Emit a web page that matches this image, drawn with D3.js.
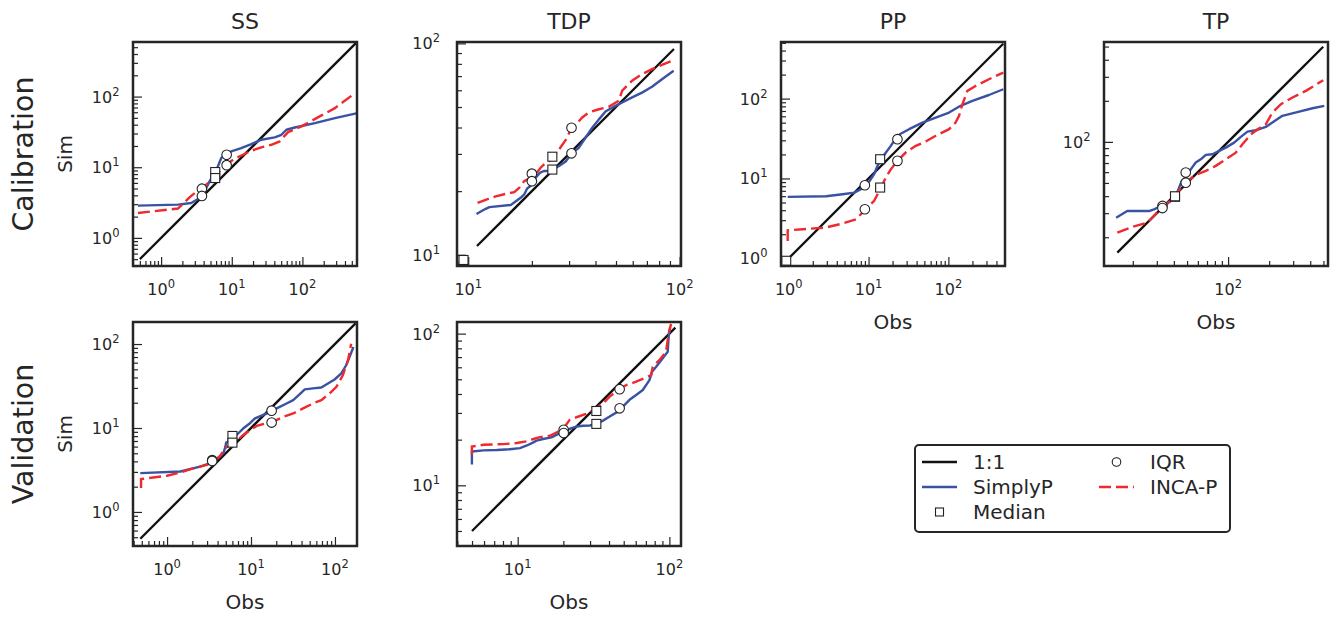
<!DOCTYPE html>
<html>
<head>
<meta charset="utf-8">
<script src="https://cdn.jsdelivr.net/npm/d3@7"></script>
<style>
  body { margin: 0; background: #fff; }
  svg { display: block; font-family: "DejaVu Sans", sans-serif; }
</style>
</head>
<body>
<svg id="grafico" width="1336" height="619"></svg>
<script>
// ---------- Dados (obs, sim) ----------

// SS - calibração
const ssCalSimplyP = [[0.47,2.86],[1.73,2.96],[2.67,3.12],[3.5,3.67],[4.12,4.56],[4.85,6.31],[5.71,8.27],[6.37,10.3],[7.1,13.5],[8.36,15.9],[9.84,16.7],[13.6,18.7],[18.9,21.3],[26.2,24.5],[40.5,26.4],[50.4,28.8],[59.3,33.9],[78,36.5],[150,42.1],[288,49.5],[578,57.7]];
const ssCalIncaP = [[0.47,2.25],[1.73,2.6],[2.03,3.02],[2.52,3.75],[3.31,4.66],[4.35,5.66],[5.41,7.03],[6.73,8.73],[8.36,10.9],[11.0,13.2],[14.4,15.0],[18.9,17.1],[26.2,19.1],[36.3,20.8],[47.7,23.2],[55,27.3],[62.7,31.4],[96.8,37.8],[186,54.1],[288,68.5],[530,108]];
const ssCalIqr = [[3.78,4.97],[3.78,3.92],[8.46,15.0],[8.46,10.7]];
const ssCalMedian = [[5.83,8.55],[5.83,7.03]];
const ssCalOneToOne = [0.5, 575];

// TDP - calibração
const tdpCalSimplyP = [[10.94,15.6],[12.1,16.5],[12.6,16.8],[15.9,17.2],[16.8,17.9],[17.7,18.6],[18.4,19.3],[19.0,20.6],[20.1,21.5],[20.8,23.1],[21.8,24.4],[22.8,24.9],[24.1,24.9],[25.2,25.3],[26.9,26.3],[28.9,27.6],[31.0,30.4],[33.4,32.1],[35.9,35.8],[38.6,39.9],[41.5,43.7],[44.6,47.6],[49.7,50.6],[53.5,52.5],[59.6,55.5],[66.4,58.5],[74.0,62.3],[82.5,67.7],[93.7,74.2]];
const tdpCalIncaP = [[11.07,17.6],[12.1,18.2],[13.5,18.9],[15.0,19.4],[16.5,19.8],[17.4,20.7],[18.4,22.3],[19.7,23.1],[20.8,24.0],[22.0,25.8],[23.2,27.2],[25.0,28.2],[26.9,31.5],[29.4,35.8],[30.5,39.2],[32.2,41.1],[34.6,44.6],[37.2,47.1],[41.5,48.8],[46.2,50.1],[51.5,53.5],[53.5,59.7],[59.6,66.6],[66.4,71.5],[74.0,75.5],[82.5,79.2],[93.7,83.4]];
const tdpCalIqr = [[20,24.2],[20,22.3],[30.8,39.9],[30.8,30.2]];
const tdpCalMedian = [[25,29.1],[25,25.3],[9.5,9.45]];
const tdpCalOneToOne = [11, 94];

// PP - calibração
const ppCalSimplyP = [[0.97,5.88],[2.93,5.98],[4.73,6.34],[6.62,6.65],[8.02,7.32],[9.08,8.07],[10.2,9.15],[11.75,11.3],[12.96,14.4],[14.3,17.4],[16.5,21.1],[19.0,25.6],[20.9,29.6],[24.6,35.8],[32.2,41.4],[47.3,50.1],[69.4,57.9],[102,66.9],[142,81.2],[200,93.8],[322,111],[487,131]];
const ppCalIncaP = [[0.97,1.65],[0.97,2.24],[1.5,2.31],[2.93,2.43],[4.73,2.72],[6.94,3.08],[8.83,3.93],[10.2,4.54],[11.75,5.24],[12.96,6.34],[14.3,7.69],[16.5,10.3],[19.0,13.0],[23.0,16.6],[29.2,21.1],[39.0,25.6],[52.0,29.0],[69.4,34.2],[102,41.4],[123,50.1],[136,60.8],[150,85.1],[173,125],[219,144],[322,175],[487,212]];
const ppCalIqr = [[8.99,8.22],[8.99,4.11],[23.0,31.0],[23.0,16.6]];
const ppCalMedian = [[13.97,17.4],[13.97,7.69],[0.93,0.93]];
const ppCalOneToOne = [1, 487];

// TP - calibração
const tpCalSimplyP = [[15.1,27.8],[18.2,31.1],[26.3,31.1],[28.6,32.0],[31.1,33.3],[33.9,33.9],[37.9,36.9],[40.8,39.0],[43.7,46.2],[45.7,51.7],[48.9,54.7],[53.2,62.9],[57.9,70.5],[63.0,74.5],[68.6,80.3],[76.8,81.1],[85.9,85.9],[96.1,90.8],[110.7,98.8],[123.9,108.8],[138.7,119],[159.6,121.7],[189,128.8],[211,138.6],[250,155.2],[332,166.8],[416,176.5],[507,183.6]];
const tpCalIncaP = [[15.4,21.6],[19.8,23.8],[25.6,25.6],[28.6,28.6],[31.1,31.5],[34.9,34.8],[39.0,37.9],[42.5,42.5],[46.2,47.5],[50.2,51.7],[57.9,57.3],[68.6,61.3],[81.2,66.7],[96.1,74.5],[113.8,83.4],[127.4,96.0],[146.9,113.7],[169,125.9],[189,134.7],[211,164],[243.8,188.8],[296.6,211.4],[371.5,236.7],[498,283]];
const tpCalIqr = [[33,33.9],[33,32.7],[48.9,59.6],[48.9,50.2]];
const tpCalMedian = [[40.8,39.6],[40.8,39.9]];
const tpCalOneToOne = [15.4, 498];

// SS - validação
const ssValSimplyP = [[0.48,2.90],[1.44,3.03],[2.48,3.47],[3.26,3.81],[3.92,4.25],[4.69,5.01],[4.96,6.00],[5.05,6.69],[5.90,7.21],[7.07,8.65],[8.11,9.91],[9.73,11.4],[11.15,13.0],[14.0,14.3],[17.1,15.6],[20.2,17.1],[26.5,19.6],[31.8,21.5],[38.1,25.3],[43.7,28.8],[54.8,29.6],[68.8,30.4],[82.5,33.9],[99,37.8],[119,44.6],[136,55.9],[149,70.1],[166,92.1]];
const ssValIncaP = [[0.49,1.93],[0.49,2.46],[0.605,2.53],[1.0,2.70],[1.44,2.95],[2.07,3.32],[2.98,3.64],[3.57,3.98],[4.29,4.65],[4.92,5.74],[5.64,6.28],[6.77,7.07],[8.11,8.26],[9.73,9.46],[11.7,10.6],[15.4,11.4],[18.4,11.9],[24.2,13.6],[31.8,14.9],[41.7,17.1],[54.8,19.6],[68.8,21.5],[86.5,25.8],[104,30.9],[124,42.5],[143,64.1],[156,101]];
const ssValIqr = [[3.45,4.14],[3.45,4.05],[17.6,16.1],[17.6,11.6]];
const ssValMedian = [[6.01,8.04],[6.01,6.69]];
const ssValOneToOne = [0.48, 176];

// TDP - validação
const tdpValSimplyP = [[4.99,13.7],[4.99,16.7],[5.95,17.0],[7.28,17.1],[8.89,17.3],[10.35,17.6],[11.5,18.3],[12.7,19.2],[13.3,19.7],[14.7,20.2],[16.7,20.7],[18.0,21.5],[19.4,22.3],[21.0,23.0],[22.6,23.8],[24.4,24.4],[27.0,24.7],[29.9,24.8],[33.0,25.4],[36.5,26.7],[40.4,28.4],[45.8,30.6],[49.4,33.0],[54.6,36.6],[60.4,39.4],[66.8,42.5],[73.9,49.4],[76.9,56.1],[81.8,60.4],[90.4,68.7],[97.5,75.9],[98.9,95.1],[101,109.6]];
const tdpValIncaP = [[4.99,15.9],[4.99,18.0],[5.95,18.5],[8.04,18.7],[9.85,19.0],[11.5,19.5],[12.7,20.2],[14.0,20.8],[16.3,21.2],[18.0,22.3],[19.9,23.5],[22.0,27.0],[24.4,28.1],[27.0,29.1],[29.9,30.1],[33.0,32.2],[36.5,34.7],[40.4,38.4],[45.8,42.5],[52.0,45.8],[60.4,48.2],[70.3,51.5],[75.8,53.3],[77.7,60.4],[85.9,66.8],[95.0,75.9],[98.9,100],[102.6,116]];
const tdpValIqr = [[20.1,23.2],[20.1,22.1],[47.0,43.0],[47.0,32.2]];
const tdpValMedian = [[33.0,30.9],[33.0,25.4]];
const tdpValOneToOne = [5, 109.5];

// Expoentes dos rótulos (10^n) e limites dos eixos
const ssCalExp = [0, 1, 2];
const tdpCalExp = [1, 2];
const ppCalExp = [0, 1, 2];
const tpCalExp = [2];
const ssValExp = [0, 1, 2];
const tdpValExp = [1, 2];

const ssCalLim = [0.4, 592];
const tdpCalLim = [8.85, 101.5];
const ppCalLim = [0.8, 512];
const tpCalLim = [12.3, 540];
const ssValLim = [0.393, 183];
const tdpValLim = [3.98, 119.3];

// ---------- Configuração visual ----------
const corSimplyP = '#3a52a4';
const corIncaP = '#ee2a2e';
const corEixo = '#262626';
const ladoPainel = 224;
const raioCirculo = 4.8;
const ladoQuadrado = 9;

const paineis = [
  { titulo: 'SS', left: 133, top: 42, lim: ssCalLim, exp: ssCalExp, simplyP: ssCalSimplyP, incaP: ssCalIncaP, iqr: ssCalIqr, mediana: ssCalMedian, umUm: ssCalOneToOne, sim: true, obs: false, pad: 13.5 },
  { titulo: 'TDP', left: 457, top: 42, lim: tdpCalLim, exp: tdpCalExp, simplyP: tdpCalSimplyP, incaP: tdpCalIncaP, iqr: tdpCalIqr, mediana: tdpCalMedian, umUm: tdpCalOneToOne, sim: false, obs: false, pad: 17 },
  { titulo: 'PP', left: 781, top: 42, lim: ppCalLim, exp: ppCalExp, simplyP: ppCalSimplyP, incaP: ppCalIncaP, iqr: ppCalIqr, mediana: ppCalMedian, umUm: ppCalOneToOne, sim: false, obs: true, pad: 13.5 },
  { titulo: 'TP', left: 1104, top: 42, lim: tpCalLim, exp: tpCalExp, simplyP: tpCalSimplyP, incaP: tpCalIncaP, iqr: tpCalIqr, mediana: tpCalMedian, umUm: tpCalOneToOne, sim: false, obs: true, pad: 13.5 },
  { titulo: null, left: 133, top: 322, lim: ssValLim, exp: ssValExp, simplyP: ssValSimplyP, incaP: ssValIncaP, iqr: ssValIqr, mediana: ssValMedian, umUm: ssValOneToOne, sim: true, obs: true, pad: 13.5 },
  { titulo: null, left: 457, top: 322, lim: tdpValLim, exp: tdpValExp, simplyP: tdpValSimplyP, incaP: tdpValIncaP, iqr: tdpValIqr, mediana: tdpValMedian, umUm: tdpValOneToOne, sim: false, obs: true, pad: 17 }
];

const svg = d3.select('#grafico');
const defs = svg.append('defs');

function ehPotencia10(v) {
  const l = Math.log10(v);
  return Math.abs(l - Math.round(l)) < 1e-9;
}

// Desenha um rótulo 10^n
function rotulo(sel, n) {
  sel.append('tspan').text('10');
  sel.append('tspan').attr('dy', -7).attr('font-size', 11.5).text(n);
}

paineis.forEach((p, i) => {
  const x = d3.scaleLog().domain(p.lim).range([0, ladoPainel]);
  const y = d3.scaleLog().domain(p.lim).range([ladoPainel, 0]);

  const g = svg.append('g').attr('transform', `translate(${p.left},${p.top})`);

  defs.append('clipPath').attr('id', 'clip' + i)
    .append('rect').attr('width', ladoPainel).attr('height', ladoPainel);

  const maiores = p.exp.map(e => Math.pow(10, e));
  const menores = x.ticks().filter(v => !ehPotencia10(v));

  // Ticks para dentro (maiores e menores)
  const eixos = [
    [d3.axisBottom(x).tickValues(maiores).tickSizeInner(-9), `translate(0,${ladoPainel})`],
    [d3.axisBottom(x).tickValues(menores).tickSizeInner(-5), `translate(0,${ladoPainel})`],
    [d3.axisLeft(y).tickValues(maiores).tickSizeInner(-9), null],
    [d3.axisLeft(y).tickValues(menores).tickSizeInner(-5), null]
  ];
  eixos.forEach(([ax, tr]) => {
    const ge = g.append('g')
      .call(ax.tickSizeOuter(0).tickFormat(''))
      .attr('color', corEixo);
    if (tr) ge.attr('transform', tr);
    ge.select('.domain').remove();
    ge.selectAll('line').attr('stroke-width', 1.2);
  });

  // Rótulos dos ticks
  p.exp.forEach(e => {
    const tx = g.append('text')
      .attr('x', x(Math.pow(10, e))).attr('y', ladoPainel + 29)
      .attr('text-anchor', 'middle').attr('font-size', 16).attr('fill', corEixo);
    rotulo(tx, e);
    const ty = g.append('text')
      .attr('x', -p.pad).attr('y', y(Math.pow(10, e)) + 6)
      .attr('text-anchor', 'end').attr('font-size', 16).attr('fill', corEixo);
    rotulo(ty, e);
  });

  // Área do gráfico
  const area = g.append('g').attr('clip-path', `url(#clip${i})`);
  const linha = d3.line().x(d => x(d[0])).y(d => y(d[1]));

  area.append('path')
    .datum([[p.umUm[0], p.umUm[0]], [p.umUm[1], p.umUm[1]]])
    .attr('d', linha).attr('fill', 'none')
    .attr('stroke', '#111').attr('stroke-width', 2.3);

  area.append('path')
    .datum(p.simplyP)
    .attr('d', linha).attr('fill', 'none')
    .attr('stroke', corSimplyP).attr('stroke-width', 2.4)
    .attr('stroke-linejoin', 'round');

  area.append('path')
    .datum(p.incaP)
    .attr('d', linha).attr('fill', 'none')
    .attr('stroke', corIncaP).attr('stroke-width', 2.4)
    .attr('stroke-dasharray', '12,5');

  area.selectAll('.iqr')
    .data(p.iqr).enter()
    .append('circle')
    .attr('cx', d => x(d[0])).attr('cy', d => y(d[1])).attr('r', raioCirculo)
    .attr('fill', '#fff').attr('stroke', '#222').attr('stroke-width', 1.1);

  area.selectAll('.mediana')
    .data(p.mediana).enter()
    .append('rect')
    .attr('x', d => x(d[0]) - ladoQuadrado / 2).attr('y', d => y(d[1]) - ladoQuadrado / 2)
    .attr('width', ladoQuadrado).attr('height', ladoQuadrado)
    .attr('fill', '#fff').attr('stroke', '#222').attr('stroke-width', 1.1);

  // Moldura
  g.append('rect')
    .attr('width', ladoPainel).attr('height', ladoPainel)
    .attr('fill', 'none').attr('stroke', corEixo).attr('stroke-width', 2.5);

  if (p.titulo) {
    g.append('text')
      .attr('x', ladoPainel / 2).attr('y', -13)
      .attr('text-anchor', 'middle').attr('font-size', 22).attr('fill', corEixo)
      .text(p.titulo);
  }
  if (p.obs) {
    g.append('text')
      .attr('x', ladoPainel / 2).attr('y', ladoPainel + 63)
      .attr('text-anchor', 'middle').attr('font-size', 20).attr('fill', corEixo)
      .text('Obs');
  }
  if (p.sim) {
    g.append('text')
      .attr('transform', `translate(${72 - p.left},${ladoPainel / 2}) rotate(-90)`)
      .attr('text-anchor', 'middle').attr('font-size', 20).attr('fill', corEixo)
      .text('Sim');
  }
});

// Rótulos das linhas
[['Calibration', 154], ['Validation', 434]].forEach(([t, cy]) => {
  svg.append('text')
    .attr('transform', `translate(33,${cy}) rotate(-90)`)
    .attr('text-anchor', 'middle').attr('font-size', 28.5).attr('fill', corEixo)
    .text(t);
});

// ---------- Legenda ----------
const legenda = svg.append('g');
legenda.append('rect')
  .attr('x', 915).attr('y', 445).attr('width', 315).attr('height', 87).attr('rx', 4)
  .attr('fill', '#fff').attr('stroke', corEixo).attr('stroke-width', 2);

const itensLegenda = [
  { rotulo: '1:1', tipo: 'linha', cor: '#111', x: 922, y: 462 },
  { rotulo: 'SimplyP', tipo: 'linha', cor: corSimplyP, x: 922, y: 487 },
  { rotulo: 'Median', tipo: 'quadrado', x: 922, y: 512 },
  { rotulo: 'IQR', tipo: 'circulo', x: 1099, y: 462 },
  { rotulo: 'INCA-P', tipo: 'tracejado', cor: corIncaP, x: 1099, y: 487 }
];

itensLegenda.forEach(it => {
  if (it.tipo === 'linha' || it.tipo === 'tracejado') {
    const l = legenda.append('line')
      .attr('x1', it.x).attr('x2', it.x + 35).attr('y1', it.y).attr('y2', it.y)
      .attr('stroke', it.cor).attr('stroke-width', 2.4);
    if (it.tipo === 'tracejado') l.attr('stroke-dasharray', '12,5');
  } else if (it.tipo === 'quadrado') {
    legenda.append('rect')
      .attr('x', it.x + 17.5 - 4).attr('y', it.y - 4).attr('width', 8).attr('height', 8)
      .attr('fill', '#fff').attr('stroke', '#222').attr('stroke-width', 1.1);
  } else {
    legenda.append('circle')
      .attr('cx', it.x + 17.5).attr('cy', it.y).attr('r', 4.3)
      .attr('fill', '#fff').attr('stroke', '#222').attr('stroke-width', 1.1);
  }
  legenda.append('text')
    .attr('x', it.x + 51).attr('y', it.y + 7)
    .attr('font-size', 20).attr('fill', corEixo)
    .text(it.rotulo);
});
</script>
</body>
</html>
